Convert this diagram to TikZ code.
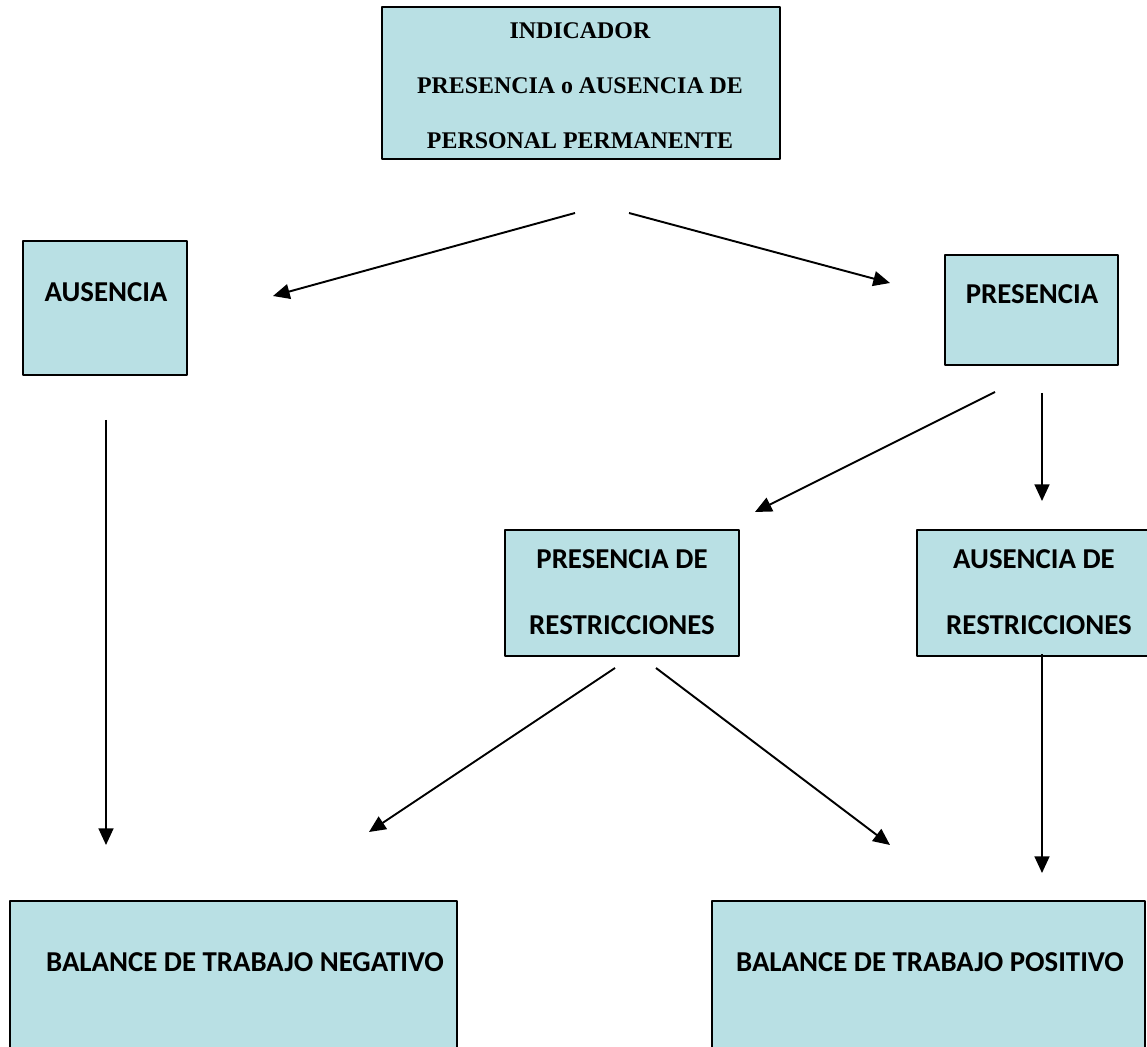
\documentclass[tikz,border=0pt]{standalone}
\usepackage{fontspec}
\setmainfont{Liberation Serif}
\newfontfamily\calibri{Carlito}
\usetikzlibrary{arrows.meta}
\definecolor{celeste}{RGB}{185,224,228}
\begin{document}
\begin{tikzpicture}[x=0.02cm, y=-0.02cm, line join=round, >={Triangle[length=9.5pt,width=8.5pt]},
  caja/.style={fill=celeste, draw=black, line width=1.3pt},
  flecha/.style={->, line width=1.1pt},
  sans/.style={font=\calibri\fontsize{16.4}{19}\selectfont\bfseries, inner sep=0pt, anchor=base},
  serif/.style={font=\fontsize{13.6}{16}\selectfont\bfseries, inner sep=0pt, anchor=base}]
\useasboundingbox (0,0) rectangle (1147,1047);
% Cajas
\draw[caja] (382,7) rectangle (780,159);
\draw[caja] (23,241) rectangle (187,375);
\draw[caja] (945,255) rectangle (1118,365);
\draw[caja] (505,530) rectangle (739,656);
\draw[caja] (917,530) rectangle (1170,656);
\draw[caja] (10,901) rectangle (457,1070);
\draw[caja] (712,901) rectangle (1145,1070);
% Textos
\node[serif] (ind1) at (580,39) {INDICADOR};
\node[serif] (ind2) at (580,94) {PRESENCIA o AUSENCIA DE};
\node[serif] (ind3) at (580,149) {PERSONAL PERMANENTE};
\node[sans] (aus) at (106,301.5) {AUSENCIA};
\node[sans] (pre) at (1032,304) {PRESENCIA};
\node[sans] (pdr1) at (622,569) {PRESENCIA DE};
\node[sans] (pdr2) at (622,635) {RESTRICCIONES};
\node[sans] (adr1) at (1034,569) {AUSENCIA DE};
\node[sans] (adr2) at (1039,635) {RESTRICCIONES};
\node[sans] (neg) at (245,971) {BALANCE DE TRABAJO NEGATIVO};
\node[sans] (pos) at (930,971) {BALANCE DE TRABAJO POSITIVO};
% Extremos de las flechas
\coordinate (i1) at (575,213); \coordinate (a1) at (273,296);
\coordinate (i2) at (629,213); \coordinate (p1) at (890,283);
\coordinate (a2) at (106,420); \coordinate (n1) at (106,845);
\coordinate (p2) at (995,392); \coordinate (r1) at (755,512);
\coordinate (p3) at (1042,393); \coordinate (s1) at (1042,501);
\coordinate (r2) at (615,668); \coordinate (n2) at (369,832);
\coordinate (r3) at (656,668); \coordinate (q1) at (890,845);
\coordinate (s2) at (1042,654); \coordinate (q2) at (1042,873);
% Flechas
\draw[flecha] (i1) -- (a1);
\draw[flecha] (i2) -- (p1);
\draw[flecha] (a2) -- (n1);
\draw[flecha] (p2) -- (r1);
\draw[flecha] (p3) -- (s1);
\draw[flecha] (r2) -- (n2);
\draw[flecha] (r3) -- (q1);
\draw[flecha] (s2) -- (q2);
\end{tikzpicture}
\end{document}
